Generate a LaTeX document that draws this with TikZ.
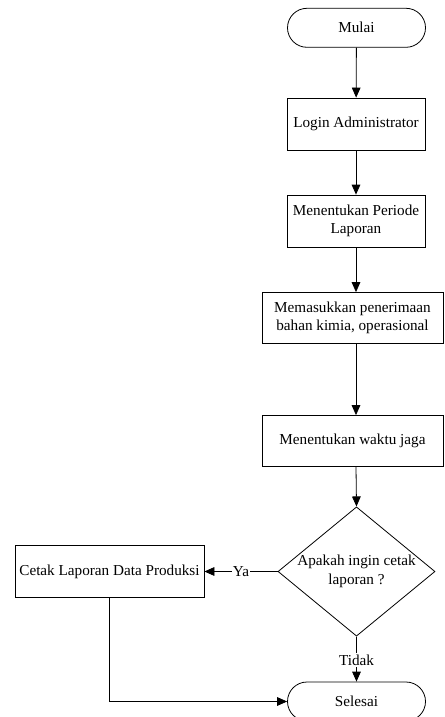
\documentclass[tikz,border=0pt]{standalone}
\usepackage{fontspec}
\setmainfont{Liberation Serif}
\usetikzlibrary{shapes.geometric,arrows.meta}

\tikzset{
  terminal/.style={draw, line width=0.6pt, rounded corners=14.6pt, minimum width=103.5pt, minimum height=29.25pt, inner sep=0pt},
  prosesbox/.style={draw, line width=0.6pt, align=center, minimum height=39pt, inner sep=0pt},
  keputusan/.style={draw, line width=0.6pt, diamond, align=center, minimum width=117.75pt, minimum height=87.75pt, inner sep=-4pt},
  alur/.style={line width=0.6pt, -{Triangle[length=7.5pt, width=6.5pt]}},
  ket/.style={fill=white, inner sep=1pt}
}

\begin{document}
\begin{tikzpicture}[x=0.75pt, y=-0.75pt, font=\fontsize{11.4}{14}\selectfont]
            \clip (0, 0) rectangle (444, 717);
            \useasboundingbox (0, 0) rectangle (444, 717);
            \node[terminal] (mulai) at (356.5, 27.8) {Mulai};
            \node[prosesbox, minimum width=103.5pt] (login) at (356, 124) {Login Administrator};
            \node[prosesbox, minimum width=103.5pt] (periode) at (356, 221) {Menentukan Periode\\Laporan};
            \node[prosesbox, minimum width=135.75pt, minimum height=38.25pt] (masuk) at (352.5, 318) {Memasukkan penerimaan\\bahan kimia, operasional};
            \node[prosesbox, minimum width=135.75pt, minimum height=38.25pt] (waktu) at (352.5, 441) {Menentukan waktu jaga};
            \node[keputusan] (cetakq) at (356.5, 571.5) {Apakah ingin cetak\\laporan ?};
            \node[prosesbox, minimum width=141.75pt] (cetak) at (109.5, 571.5) {Cetak Laporan Data Produksi};
            \node[terminal] (selesai) at (356.5, 701.5) {Selesai};
            \draw[alur] (mulai) -- (login);
            \draw[alur] (login) -- (periode);
            \draw[alur] (periode.south) -- (periode.south |- masuk.north);
            \draw[alur] (periode.south |- masuk.south) -- (periode.south |- waktu.north);
            \draw[alur] (periode.south |- waktu.south) -- (cetakq.north);
            \draw[alur] (cetakq.west) -- node[ket] {Ya} (cetak.east);
            \draw[alur] (cetakq.south) -- node[ket, pos=0.52] {Tidak} (selesai.north);
            \draw[alur] (cetak.south) |- (selesai.west);
        \end{tikzpicture}
\end{document}
